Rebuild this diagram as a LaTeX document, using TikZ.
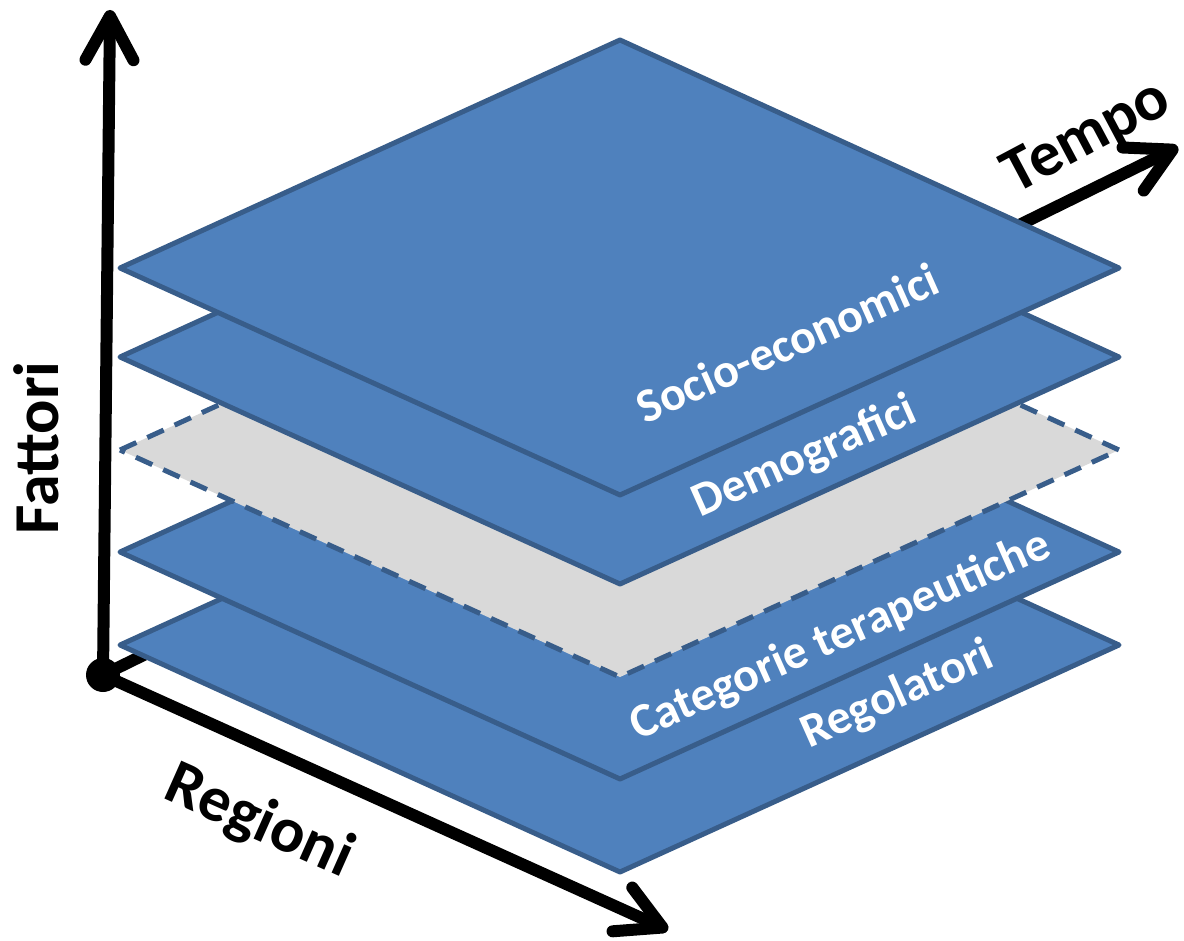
\documentclass[tikz,border=0pt]{standalone}
\usepackage{fontspec}
\setmainfont{Carlito}
\usetikzlibrary{arrows.meta}
\definecolor{layerblue}{HTML}{4F81BD}
\definecolor{layeredge}{HTML}{385D8A}
\definecolor{ghostgray}{HTML}{D9D9D9}
\tikzset{%
   layer/.style={fill=layerblue, draw=layeredge, line width=2.5pt, line join=round},
   ghost/.style={fill=ghostgray, draw=layeredge, line width=2.5pt, dash pattern=on 9pt off 6pt},
   axis/.style={line width=6pt, -{Straight Barb[length=22pt, width=24pt, round]}},
   axlabel/.style={font=\fontsize{32}{38}\selectfont\bfseries, anchor=base, inner sep=0pt},
   lbl/.style={font=\fontsize{24}{29}\selectfont\bfseries, text=white, anchor=base, inner sep=0pt, rotate=24},
}
% one plane of the stack, given by the height of its left corner
\newcommand\plane[2][layer]{%
  \path[#1] (120,#2) -- (620,{#2-228}) -- (1119,#2) -- (620,{#2+227}) -- cycle;%
}
\begin{document}
\begin{tikzpicture}[x=0.5pt, y=-0.5pt]
   \useasboundingbox (0,0) rectangle (1184,941);
   \coordinate (O) at (103,675);
   \coordinate (F) at (110,10);
   \coordinate (R) at (668,930);
   \coordinate (T) at (1178,147);
   \draw[axis] (O) -- (F);
   \draw[axis] (O) -- (T);
   \draw[axis] (O) -- (R);
   \fill (O) circle (17);
   % the stack, bottom to top
   \plane{645}
   \plane{552}
   \plane[ghost]{450}
   \plane{357}
   \plane{268}
   \node[lbl] (soc) at (794,358) {Socio-economici};
   \node[lbl] (dem) at (810,469) {Demografici};
   \node[lbl] (cat) at (846,648) {Categorie terapeutiche};
   \node[lbl] (reg) at (903,707) {Regolatori};
   \node[axlabel, rotate=90] (fat) at (58,448) {Fattori};
   \node[axlabel, rotate=-24] (regl) at (252,838) {Regioni};
   \node[axlabel, rotate=28] (tem) at (1095,152) {Tempo};
\end{tikzpicture}
\end{document}
